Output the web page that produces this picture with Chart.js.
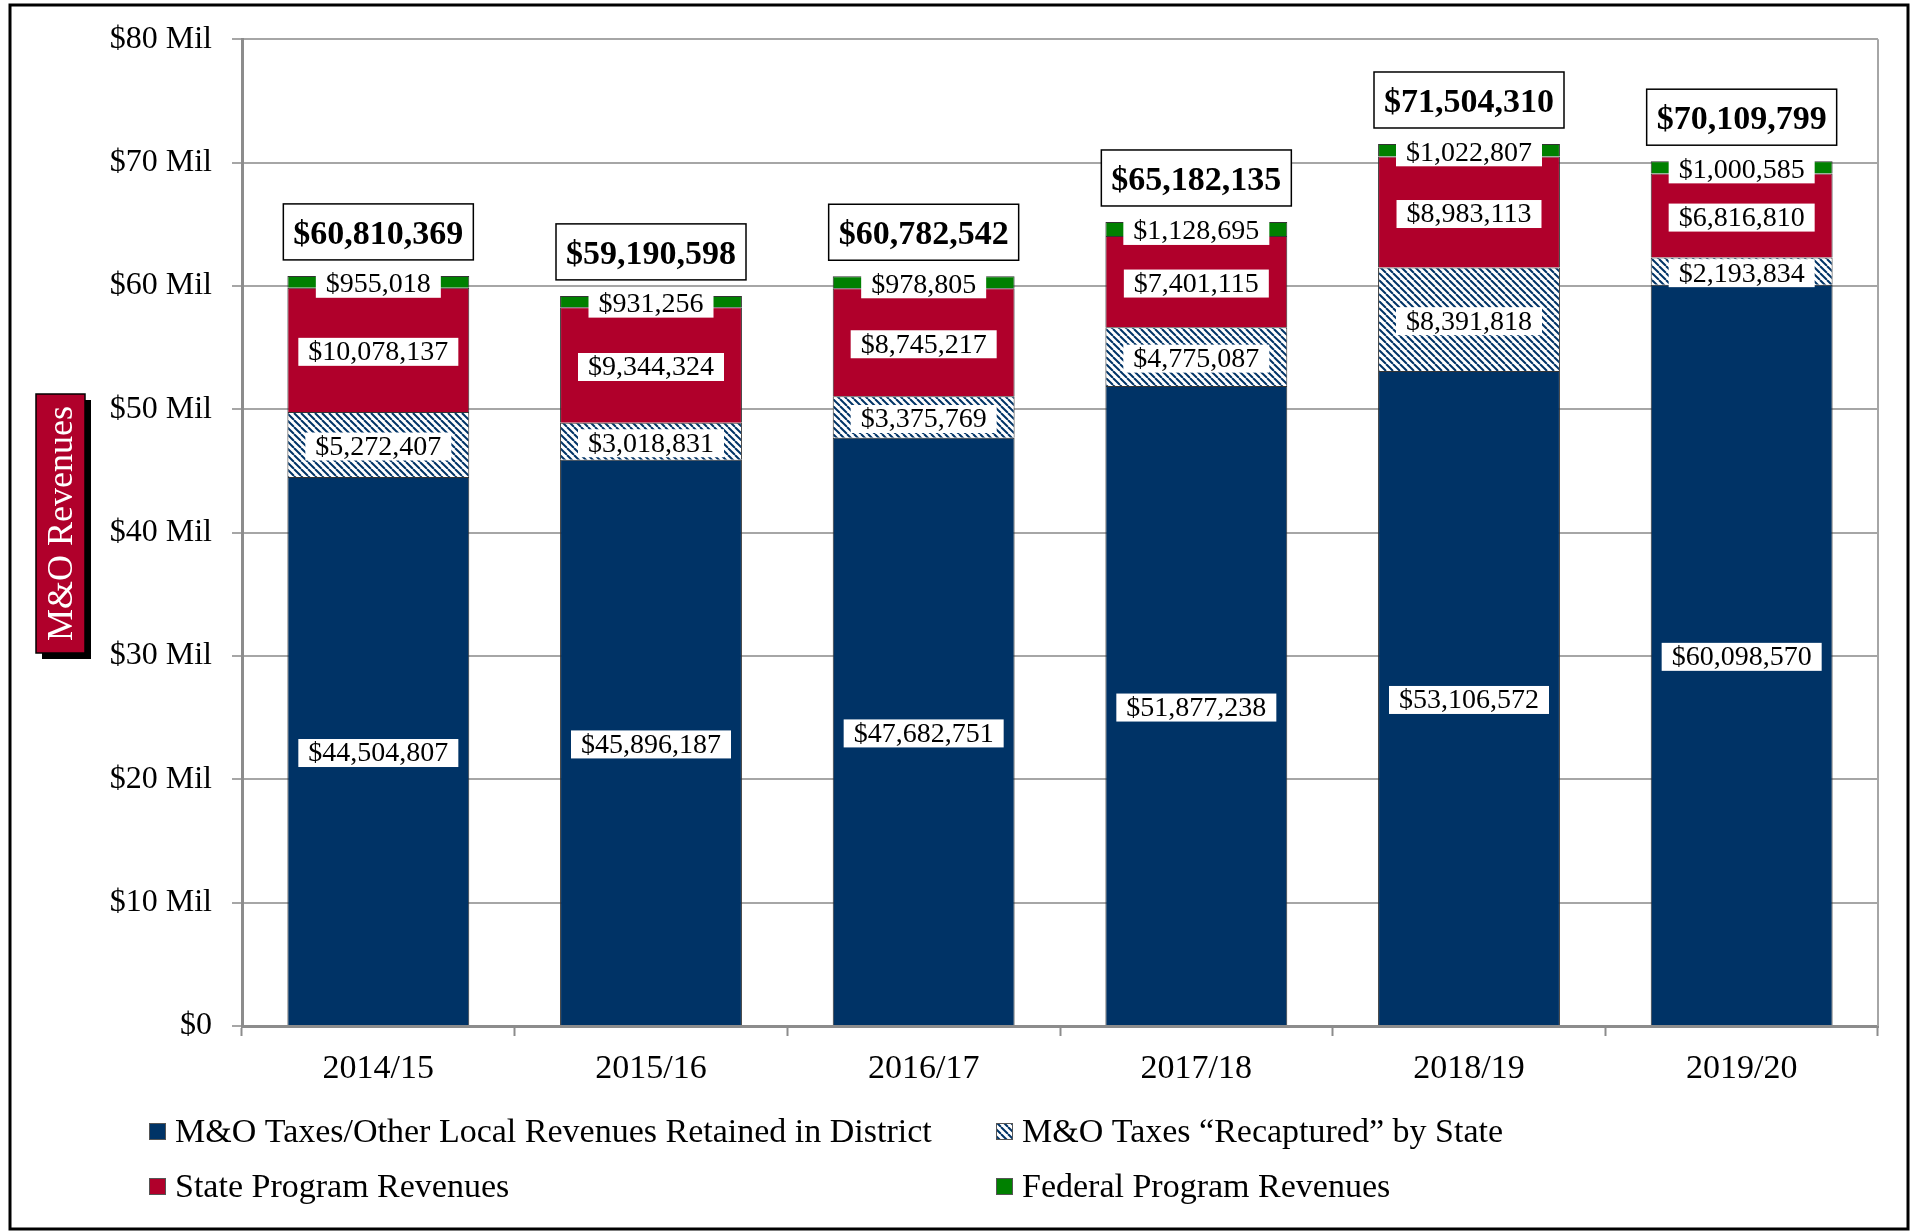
<!DOCTYPE html>
<html lang="en">
<head>
  <meta charset="UTF-8">
  <title>M&amp;O Revenues</title>
  <script src="https://cdn.jsdelivr.net/npm/chart.js"></script>
  <style>
    html, body { margin: 0; padding: 0; background: #fff; }
    canvas { display: block; }
  </style>
</head>
<body>
  <canvas id="revChart" width="1917" height="1232"></canvas>

  <script>
    // Chart data (dollars)
    const years = ['2014/15', '2015/16', '2016/17', '2017/18', '2018/19', '2019/20'];
    const localRetained = [44504807, 45896187, 47682751, 51877238, 53106572, 60098570];
    const recaptured = [5272407, 3018831, 3375769, 4775087, 8391818, 2193834];
    const stateRevenue = [10078137, 9344324, 8745217, 7401115, 8983113, 6816810];
    const federalRevenue = [955018, 931256, 978805, 1128695, 1022807, 1000585];
    const yTickLabels = ['$0', '$10 Mil', '$20 Mil', '$30 Mil', '$40 Mil', '$50 Mil', '$60 Mil', '$70 Mil', '$80 Mil'];
    const seriesNames = [
      'M&O Taxes/Other Local Revenues Retained in District',
      'M&O Taxes \u201cRecaptured\u201d by State',
      'State Program Revenues',
      'Federal Program Revenues'
    ];

    const SERIF = '"Liberation Serif", "Times New Roman", serif';
    const NAVY = '#003366';
    const money = v => '$' + v.toLocaleString('en-US');

    // hatch pattern for the recaptured series
    function makeHatch() {
      const s = 7;
      const c = document.createElement('canvas');
      c.width = s; c.height = s;
      const g = c.getContext('2d');
      g.fillStyle = '#fff';
      g.fillRect(0, 0, s, s);
      g.strokeStyle = NAVY;
      g.lineWidth = 2;
      [-s, 0, s].forEach(o => {
        g.beginPath();
        g.moveTo(o, 0);
        g.lineTo(o + s, s);
        g.stroke();
      });
      return g.createPattern(c, 'repeat');
    }
    const hatch = makeHatch();

    // segment labels + boxed totals, legend, axis title, frame
    const decorations = {
      id: 'decorations',
      beforeDraw(chart) {
        const ctx = chart.ctx;
        ctx.save();
        ctx.fillStyle = '#fff';
        ctx.fillRect(0, 0, chart.width, chart.height);
        ctx.restore();
      },
      afterDatasetsDraw(chart) {
        const ctx = chart.ctx;
        const area = chart.chartArea;
        ctx.save();

        // right edge of plot area
        ctx.strokeStyle = '#a6a6a6';
        ctx.lineWidth = 2;
        ctx.beginPath();
        ctx.moveTo(area.right, area.top);
        ctx.lineTo(area.right, area.bottom);
        ctx.stroke();

        ctx.textAlign = 'center';
        ctx.textBaseline = 'middle';
        ctx.font = '28px ' + SERIF;
        chart.data.datasets.forEach((ds, di) => {
          const meta = chart.getDatasetMeta(di);
          meta.data.forEach((bar, i) => {
            const p = bar.getProps(['x', 'y', 'base'], true);
            const cy = (p.y + p.base) / 2 + 2;
            const txt = money(ds.data[i]);
            const w = ctx.measureText(txt).width + 20;
            ctx.fillStyle = '#fff';
            ctx.fillRect(p.x - w / 2, cy - 14, w, 28);
            ctx.fillStyle = '#000';
            ctx.fillText(txt, p.x, cy + 1);
          });
        });

        // totals
        const last = chart.getDatasetMeta(chart.data.datasets.length - 1);
        ctx.font = 'bold 34px ' + SERIF;
        last.data.forEach((bar, i) => {
          const total = chart.data.datasets.reduce((s, ds) => s + ds.data[i], 0);
          const txt = money(total);
          const p = bar.getProps(['x', 'y'], true);
          const w = ctx.measureText(txt).width + 20;
          const h = 56;
          const top = p.y - 16 - h;
          ctx.fillStyle = '#fff';
          ctx.fillRect(p.x - w / 2, top, w, h);
          ctx.strokeStyle = '#000';
          ctx.lineWidth = 1.5;
          ctx.strokeRect(p.x - w / 2, top, w, h);
          ctx.fillStyle = '#000';
          ctx.fillText(txt, p.x, top + h / 2 + 3);
        });
        ctx.restore();
      },
      afterDraw(chart) {
        const ctx = chart.ctx;
        ctx.save();

        // legend, 2 x 2
        const cols = [149, 996];
        const rows = [1132, 1187];
        ctx.font = '34px ' + SERIF;
        ctx.textAlign = 'left';
        ctx.textBaseline = 'middle';
        chart.data.datasets.forEach((ds, di) => {
          const x = cols[di % 2];
          const y = rows[Math.floor(di / 2)];
          ctx.fillStyle = ds.backgroundColor;
          ctx.fillRect(x, y - 9, 17, 17);
          ctx.strokeStyle = '#555';
          ctx.lineWidth = 1;
          ctx.strokeRect(x + 0.5, y - 8.5, 16, 16);
          ctx.fillStyle = '#000';
          ctx.fillText(ds.label, x + 26, y + 1);
        });

        // y axis title box with shadow
        const bx = 36, by = 394, bw = 49, bh = 259;
        ctx.fillStyle = '#000';
        ctx.fillRect(bx + 6, by + 6, bw, bh);
        ctx.fillStyle = '#B0002B';
        ctx.fillRect(bx, by, bw, bh);
        ctx.strokeStyle = '#000';
        ctx.lineWidth = 1.5;
        ctx.strokeRect(bx, by, bw, bh);
        ctx.translate(bx + bw / 2, by + bh / 2);
        ctx.rotate(-Math.PI / 2);
        ctx.fillStyle = '#fff';
        ctx.textAlign = 'center';
        ctx.font = '36px ' + SERIF;
        ctx.fillText('M&O Revenues', 0, 2);
        ctx.setTransform(1, 0, 0, 1, 0, 0);

        // outer frame
        ctx.strokeStyle = '#000';
        ctx.lineWidth = 3;
        ctx.strokeRect(10, 5, 1898, 1224);
        ctx.restore();
      }
    };

    const barStyle = {
      borderColor: '#333',
      borderWidth: 1,
      barPercentage: 0.667,
      categoryPercentage: 1.0
    };

    new Chart(document.getElementById('revChart'), {
      type: 'bar',
      data: {
        labels: years,
        datasets: [
          { label: seriesNames[0], data: localRetained, backgroundColor: NAVY, ...barStyle },
          { label: seriesNames[1], data: recaptured, backgroundColor: hatch, ...barStyle },
          { label: seriesNames[2], data: stateRevenue, backgroundColor: '#B0002B', ...barStyle },
          { label: seriesNames[3], data: federalRevenue, backgroundColor: '#008000', ...barStyle }
        ]
      },
      options: {
        responsive: false,
        animation: false,
        layout: { padding: { left: 0, top: 39, right: 39, bottom: 126 } },
        plugins: {
          legend: { display: false },
          tooltip: { enabled: false }
        },
        scales: {
          x: {
            stacked: true,
            grid: { drawOnChartArea: false, drawTicks: true, tickLength: 10, tickColor: '#8c8c8c', tickWidth: 2 },
            border: { color: '#8c8c8c', width: 3 },
            ticks: { color: '#000', font: { family: SERIF, size: 34 }, padding: 13 },
            afterFit: s => { s.height = 80; }
          },
          y: {
            stacked: true,
            min: 0,
            max: 80000000,
            ticks: {
              stepSize: 10000000,
              color: '#000',
              font: { family: SERIF, size: 32 },
              padding: 20,
              callback: (v, i) => yTickLabels[i]
            },
            grid: { color: '#a6a6a6', lineWidth: 2, tickLength: 10, tickColor: '#a6a6a6' },
            border: { color: '#8c8c8c', width: 3 },
            afterFit: s => { s.width = 242; }
          }
        }
      },
      plugins: [decorations]
    });
  </script>
</body>
</html>
